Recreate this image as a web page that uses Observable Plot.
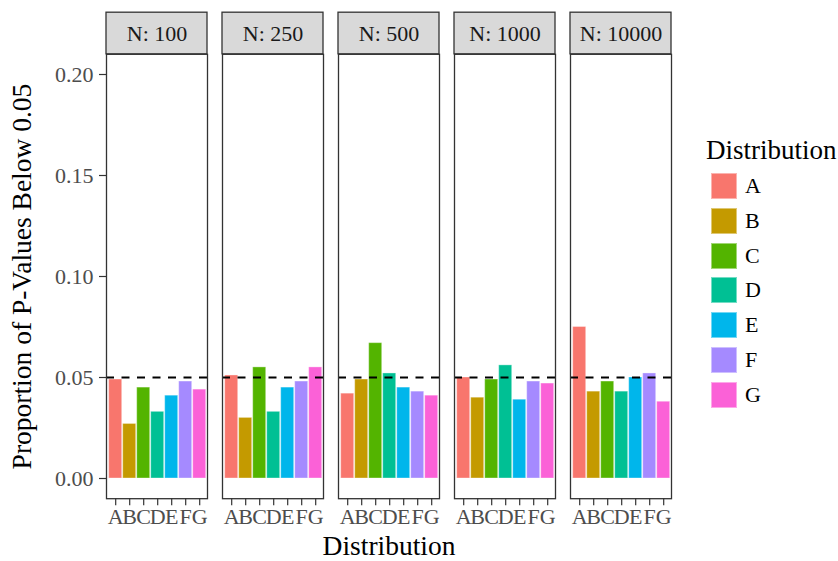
<!DOCTYPE html>
<html>
<head>
<meta charset="utf-8">
<script src="https://cdn.jsdelivr.net/npm/d3@7"></script>
<script src="https://cdn.jsdelivr.net/npm/@observablehq/plot@0.6"></script>
<style>
  html, body { margin: 0; padding: 0; background: white; }
  #wrap { position: relative; width: 838px; height: 561px; font-family: 'Liberation Serif', 'Times New Roman', serif; }
  #legend { position: absolute; left: 0; top: 0; }
  .lg-title { position: absolute; left: 706px; top: 137px; font-size: 27px; line-height: 27px; color: #000; white-space: nowrap; }
  .lg-key { position: absolute; left: 711px; width: 26px; height: 26px; box-sizing: border-box; border: 1px solid rgba(255,255,255,0.45); }
  .lg-label { position: absolute; left: 745px; height: 26px; line-height: 26px; font-size: 22px; color: #000; }
</style>
</head>
<body>
<div id="wrap"><div id="legend"></div></div>
<script>
// ---- data ----
const categories = ["A", "B", "C", "D", "E", "F", "G"];
const sampleSizes = ["100", "250", "500", "1000", "10000"];
const colors = ["#F8766D", "#C49A00", "#53B400", "#00C094", "#00B6EB", "#A58AFF", "#FB61D7"];
const p100   = [0.049, 0.027, 0.045, 0.033, 0.041, 0.048, 0.044];
const p250   = [0.051, 0.030, 0.055, 0.033, 0.045, 0.048, 0.055];
const p500   = [0.042, 0.049, 0.067, 0.052, 0.045, 0.043, 0.041];
const p1000  = [0.050, 0.040, 0.049, 0.056, 0.039, 0.048, 0.047];
const p10000 = [0.075, 0.043, 0.048, 0.043, 0.050, 0.052, 0.038];
const threshold = 0.05;
const yTicks = [0.00, 0.05, 0.10, 0.15, 0.20];
const yTitle = "Proportion of P-Values Below 0.05";
const xTitle = "Distribution";
const legendTitle = "Distribution";
const stripPrefix = "N: ";

const seriesBySize = [p100, p250, p500, p1000, p10000];
const rows = sampleSizes.flatMap((n, i) =>
  categories.map((c, j) => ({N: n, dist: c, p: seriesBySize[i][j]})));

const chart = Plot.plot({
  width: 838,
  height: 561,
  marginLeft: 104.3,
  marginRight: 166,
  marginTop: 53.8,
  marginBottom: 62.8,
  style: {fontFamily: "'Liberation Serif', 'Times New Roman', serif", fontSize: "22px", background: "white", color: "#000"},
  fx: {domain: sampleSizes, paddingInner: 0.13, paddingOuter: 0, axis: null},
  x: {domain: categories, paddingInner: 0.1, paddingOuter: 0.05, axis: null},
  y: {domain: [-0.01, 0.21], axis: null},
  color: {domain: categories, range: colors},
  marks: [
    Plot.barY(rows, {fx: "N", x: "dist", y: "p", fill: "dist", stroke: "white", strokeOpacity: 0.35, strokeWidth: 1}),
    Plot.ruleY([threshold], {stroke: "black", strokeWidth: 2, strokeDasharray: "8,7.5"}),
    Plot.frame({stroke: "#333", strokeWidth: 1.3}),
    Plot.rect(sampleSizes, {fx: d => d, y1: 0.21, y2: 0.2306, fill: "#d9d9d9", stroke: "#333", strokeWidth: 1.3}),
    Plot.text(sampleSizes, {fx: d => d, y: 0.2203, text: d => stripPrefix + d, fill: "#1a1a1a", fontSize: 22}),
    Plot.axisX({tickSize: 7, tickPadding: 3, stroke: "#333", strokeWidth: 1.2, fill: "#4d4d4d", fontSize: 22, label: null}),
    Plot.axisY(yTicks, {tickFormat: d3.format(".2f"), tickSize: 7, tickPadding: 6, stroke: "#333", strokeWidth: 1.2, fill: "#4d4d4d", fontSize: 22, label: null}),
    Plot.axisY({text: null, tickSize: 0, label: yTitle, labelArrow: "none", labelAnchor: "center", labelOffset: 95, fill: "black", fontSize: 27.5}),
    Plot.axisFx({anchor: "bottom", text: null, tickSize: 0, label: xTitle, labelArrow: "none", labelAnchor: "center", labelOffset: 56, fill: "black", fontSize: 27.5})
  ]
});
document.getElementById("wrap").prepend(chart);

// legend (HTML, built from the same arrays)
const lg = document.getElementById("legend");
const t = document.createElement("div");
t.className = "lg-title";
t.textContent = legendTitle;
lg.appendChild(t);
categories.forEach((c, i) => {
  const top = 173.3 + i * 34.7;
  const k = document.createElement("div");
  k.className = "lg-key";
  k.style.top = top + "px";
  k.style.background = colors[i];
  lg.appendChild(k);
  const l = document.createElement("div");
  l.className = "lg-label";
  l.style.top = top + "px";
  l.textContent = c;
  lg.appendChild(l);
});
</script>
</body>
</html>
